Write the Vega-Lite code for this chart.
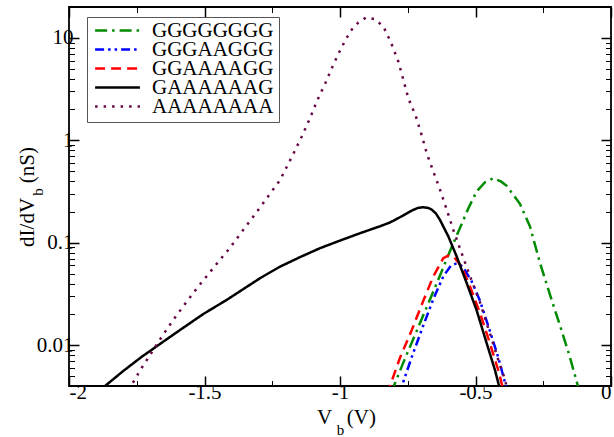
{
  "$schema": "https://vega.github.io/schema/vega-lite/v6.json",
  "width": 542,
  "height": 379,
  "autosize": "none",
  "padding": {"left": 69, "top": 7, "right": 3, "bottom": 51},
  "config": {
    "font": "'Liberation Serif', 'Times New Roman', Times, 'DejaVu Serif', serif",
    "view": {"stroke": "black", "strokeWidth": 1.8},
    "axis": {
      "grid": false,
      "domain": false,
      "labelFont": "'Liberation Serif', 'Times New Roman', Times, 'DejaVu Serif', serif",
      "titleFont": "'Liberation Serif', 'Times New Roman', Times, 'DejaVu Serif', serif",
      "labelFontSize": 21,
      "titleFontSize": 21,
      "titleFontWeight": "normal",
      "labelColor": "black",
      "titleColor": "black",
      "tickColor": "black"
    },
    "legend": {
      "labelFont": "'Liberation Serif', 'Times New Roman', Times, 'DejaVu Serif', serif"
    }
  },
  "data": {
    "values": [
      {"seq": "GGGGGGGG", "V": -0.81, "G": 0.0034},
      {"seq": "GGGGGGGG", "V": -0.803, "G": 0.0039},
      {"seq": "GGGGGGGG", "V": -0.766, "G": 0.0068},
      {"seq": "GGGGGGGG", "V": -0.717, "G": 0.0138},
      {"seq": "GGGGGGGG", "V": -0.668, "G": 0.028},
      {"seq": "GGGGGGGG", "V": -0.631, "G": 0.048},
      {"seq": "GGGGGGGG", "V": -0.594, "G": 0.083},
      {"seq": "GGGGGGGG", "V": -0.557, "G": 0.14},
      {"seq": "GGGGGGGG", "V": -0.527, "G": 0.215},
      {"seq": "GGGGGGGG", "V": -0.496, "G": 0.316},
      {"seq": "GGGGGGGG", "V": -0.465, "G": 0.39},
      {"seq": "GGGGGGGG", "V": -0.434, "G": 0.427},
      {"seq": "GGGGGGGG", "V": -0.405, "G": 0.395},
      {"seq": "GGGGGGGG", "V": -0.385, "G": 0.36},
      {"seq": "GGGGGGGG", "V": -0.336, "G": 0.24},
      {"seq": "GGGGGGGG", "V": -0.299, "G": 0.144},
      {"seq": "GGGGGGGG", "V": -0.262, "G": 0.0636},
      {"seq": "GGGGGGGG", "V": -0.225, "G": 0.031},
      {"seq": "GGGGGGGG", "V": -0.188, "G": 0.0155},
      {"seq": "GGGGGGGG", "V": -0.155, "G": 0.0082},
      {"seq": "GGGGGGGG", "V": -0.122, "G": 0.004},
      {"seq": "GGGGGGGG", "V": -0.115, "G": 0.0034},

      {"seq": "GGGAAGGG", "V": -0.783, "G": 0.0033},
      {"seq": "GGGAAGGG", "V": -0.773, "G": 0.0039},
      {"seq": "GGGAAGGG", "V": -0.735, "G": 0.0077},
      {"seq": "GGGAAGGG", "V": -0.693, "G": 0.0155},
      {"seq": "GGGAAGGG", "V": -0.656, "G": 0.028},
      {"seq": "GGGAAGGG", "V": -0.619, "G": 0.047},
      {"seq": "GGGAAGGG", "V": -0.59, "G": 0.06},
      {"seq": "GGGAAGGG", "V": -0.569, "G": 0.063},
      {"seq": "GGGAAGGG", "V": -0.548, "G": 0.059},
      {"seq": "GGGAAGGG", "V": -0.514, "G": 0.042},
      {"seq": "GGGAAGGG", "V": -0.483, "G": 0.027},
      {"seq": "GGGAAGGG", "V": -0.447, "G": 0.0138},
      {"seq": "GGGAAGGG", "V": -0.416, "G": 0.0076},
      {"seq": "GGGAAGGG", "V": -0.392, "G": 0.0044},
      {"seq": "GGGAAGGG", "V": -0.385, "G": 0.0037},

      {"seq": "GGAAAAGG", "V": -0.825, "G": 0.0033},
      {"seq": "GGAAAAGG", "V": -0.817, "G": 0.0039},
      {"seq": "GGAAAAGG", "V": -0.779, "G": 0.0075},
      {"seq": "GGAAAAGG", "V": -0.735, "G": 0.0141},
      {"seq": "GGAAAAGG", "V": -0.693, "G": 0.027},
      {"seq": "GGAAAAGG", "V": -0.656, "G": 0.0468},
      {"seq": "GGAAAAGG", "V": -0.619, "G": 0.0706},
      {"seq": "GGAAAAGG", "V": -0.6, "G": 0.075},
      {"seq": "GGAAAAGG", "V": -0.585, "G": 0.074},
      {"seq": "GGAAAAGG", "V": -0.576, "G": 0.0706},
      {"seq": "GGAAAAGG", "V": -0.551, "G": 0.0585},
      {"seq": "GGAAAAGG", "V": -0.52, "G": 0.0373},
      {"seq": "GGAAAAGG", "V": -0.483, "G": 0.0205},
      {"seq": "GGAAAAGG", "V": -0.447, "G": 0.0105},
      {"seq": "GGAAAAGG", "V": -0.416, "G": 0.0057},
      {"seq": "GGAAAAGG", "V": -0.4, "G": 0.0039},
      {"seq": "GGAAAAGG", "V": -0.395, "G": 0.0034},

      {"seq": "GAAAAAAG", "V": -1.875, "G": 0.0036},
      {"seq": "GAAAAAAG", "V": -1.867, "G": 0.004},
      {"seq": "GAAAAAAG", "V": -1.8, "G": 0.0056},
      {"seq": "GAAAAAAG", "V": -1.732, "G": 0.0077},
      {"seq": "GAAAAAAG", "V": -1.664, "G": 0.0103},
      {"seq": "GAAAAAAG", "V": -1.59, "G": 0.0141},
      {"seq": "GAAAAAAG", "V": -1.504, "G": 0.0202},
      {"seq": "GAAAAAAG", "V": -1.418, "G": 0.0277},
      {"seq": "GAAAAAAG", "V": -1.295, "G": 0.0451},
      {"seq": "GAAAAAAG", "V": -1.221, "G": 0.0585},
      {"seq": "GAAAAAAG", "V": -1.148, "G": 0.0723},
      {"seq": "GAAAAAAG", "V": -1.074, "G": 0.0885},
      {"seq": "GAAAAAAG", "V": -1.0, "G": 0.105},
      {"seq": "GAAAAAAG", "V": -0.926, "G": 0.124},
      {"seq": "GAAAAAAG", "V": -0.852, "G": 0.145},
      {"seq": "GAAAAAAG", "V": -0.815, "G": 0.158},
      {"seq": "GAAAAAAG", "V": -0.785, "G": 0.174},
      {"seq": "GAAAAAAG", "V": -0.754, "G": 0.193},
      {"seq": "GAAAAAAG", "V": -0.732, "G": 0.208},
      {"seq": "GAAAAAAG", "V": -0.712, "G": 0.219},
      {"seq": "GAAAAAAG", "V": -0.693, "G": 0.222},
      {"seq": "GAAAAAAG", "V": -0.675, "G": 0.219},
      {"seq": "GAAAAAAG", "V": -0.662, "G": 0.211},
      {"seq": "GAAAAAAG", "V": -0.646, "G": 0.193},
      {"seq": "GAAAAAAG", "V": -0.631, "G": 0.167},
      {"seq": "GAAAAAAG", "V": -0.6, "G": 0.115},
      {"seq": "GAAAAAAG", "V": -0.569, "G": 0.073},
      {"seq": "GAAAAAAG", "V": -0.532, "G": 0.04},
      {"seq": "GAAAAAAG", "V": -0.496, "G": 0.022},
      {"seq": "GAAAAAAG", "V": -0.459, "G": 0.0105},
      {"seq": "GAAAAAAG", "V": -0.428, "G": 0.0057},
      {"seq": "GAAAAAAG", "V": -0.412, "G": 0.0039},
      {"seq": "GAAAAAAG", "V": -0.408, "G": 0.0035},

      {"seq": "AAAAAAAA", "V": -1.775, "G": 0.0036},
      {"seq": "AAAAAAAA", "V": -1.769, "G": 0.0041},
      {"seq": "AAAAAAAA", "V": -1.732, "G": 0.006},
      {"seq": "AAAAAAAA", "V": -1.695, "G": 0.0085},
      {"seq": "AAAAAAAA", "V": -1.656, "G": 0.0123},
      {"seq": "AAAAAAAA", "V": -1.615, "G": 0.0177},
      {"seq": "AAAAAAAA", "V": -1.572, "G": 0.0253},
      {"seq": "AAAAAAAA", "V": -1.529, "G": 0.0357},
      {"seq": "AAAAAAAA", "V": -1.483, "G": 0.0505},
      {"seq": "AAAAAAAA", "V": -1.438, "G": 0.0707},
      {"seq": "AAAAAAAA", "V": -1.415, "G": 0.0834},
      {"seq": "AAAAAAAA", "V": -1.32, "G": 0.18},
      {"seq": "AAAAAAAA", "V": -1.221, "G": 0.41},
      {"seq": "AAAAAAAA", "V": -1.172, "G": 0.74},
      {"seq": "AAAAAAAA", "V": -1.141, "G": 1.09},
      {"seq": "AAAAAAAA", "V": -1.111, "G": 1.64},
      {"seq": "AAAAAAAA", "V": -1.084, "G": 2.45},
      {"seq": "AAAAAAAA", "V": -1.053, "G": 3.66},
      {"seq": "AAAAAAAA", "V": -1.025, "G": 5.45},
      {"seq": "AAAAAAAA", "V": -0.994, "G": 8.1},
      {"seq": "AAAAAAAA", "V": -0.961, "G": 11.7},
      {"seq": "AAAAAAAA", "V": -0.932, "G": 14.1},
      {"seq": "AAAAAAAA", "V": -0.904, "G": 15.8},
      {"seq": "AAAAAAAA", "V": -0.871, "G": 15.2},
      {"seq": "AAAAAAAA", "V": -0.84, "G": 12.9},
      {"seq": "AAAAAAAA", "V": -0.812, "G": 9.0},
      {"seq": "AAAAAAAA", "V": -0.785, "G": 5.9},
      {"seq": "AAAAAAAA", "V": -0.766, "G": 3.89},
      {"seq": "AAAAAAAA", "V": -0.748, "G": 2.58},
      {"seq": "AAAAAAAA", "V": -0.72, "G": 1.71},
      {"seq": "AAAAAAAA", "V": -0.699, "G": 1.13},
      {"seq": "AAAAAAAA", "V": -0.68, "G": 0.75},
      {"seq": "AAAAAAAA", "V": -0.656, "G": 0.5},
      {"seq": "AAAAAAAA", "V": -0.631, "G": 0.33},
      {"seq": "AAAAAAAA", "V": -0.606, "G": 0.21},
      {"seq": "AAAAAAAA", "V": -0.582, "G": 0.134},
      {"seq": "AAAAAAAA", "V": -0.551, "G": 0.079},
      {"seq": "AAAAAAAA", "V": -0.52, "G": 0.047},
      {"seq": "AAAAAAAA", "V": -0.483, "G": 0.026},
      {"seq": "AAAAAAAA", "V": -0.447, "G": 0.0131},
      {"seq": "AAAAAAAA", "V": -0.416, "G": 0.0072},
      {"seq": "AAAAAAAA", "V": -0.391, "G": 0.0046},
      {"seq": "AAAAAAAA", "V": -0.385, "G": 0.0039}
    ]
  },
  "layer": [
    {
      "mark": {"type": "line", "clip": true, "strokeWidth": 2.5, "strokeCap": "butt"},
      "encoding": {
        "x": {
          "field": "V", "type": "quantitative",
          "scale": {"domain": [-2, 0], "nice": false, "zero": false},
          "axis": {
            "orient": "bottom", "values": [-2, -1.5, -1, -0.5, 0],
            "tickSize": -10, "tickWidth": 1.5, "labelPadding": 5,
            "labelExpr": "'' + datum.value",
            "title": "V\u2002\u2009(V)", "titleX": 277, "titleY": 37,
            "titleAlign": "center", "titleBaseline": "alphabetic"
          }
        },
        "y": {
          "field": "G", "type": "quantitative",
          "scale": {"type": "log", "domain": [0.004, 20], "nice": false},
          "axis": {
            "orient": "left", "values": [0.01, 0.1, 1, 10],
            "tickSize": -10, "tickWidth": 1.5, "labelPadding": 6,
            "labelExpr": "'' + datum.value",
            "title": "dI/dV\u2002\u2009(nS)", "titleX": -36, "titleY": 189.5,
            "titleAngle": -90, "titleAlign": "center", "titleBaseline": "alphabetic"
          }
        },
        "color": {
          "field": "seq", "type": "nominal",
          "scale": {
            "domain": ["GGGGGGGG", "GGGAAGGG", "GGAAAAGG", "GAAAAAAG", "AAAAAAAA"],
            "range": ["#008b00", "#0000ff", "#ff0000", "#000000", "#670748"]
          },
          "legend": {
            "title": null, "orient": "none", "legendX": 18, "legendY": 10,
            "symbolType": "M-3.2,0H3.2", "symbolSize": 196, "symbolStrokeWidth": 2.5,
            "symbolOffset": 15, "labelOffset": 24, "clipHeight": 17,
            "labelFontSize": 21, "labelColor": "black",
            "labelLimit": 400, "rowPadding": -6, "padding": 5,
            "strokeColor": "#555555", "fillColor": "white"
          }
        },
        "strokeDash": {
          "field": "seq", "type": "nominal",
          "scale": {
            "domain": ["GGGGGGGG", "GGGAAGGG", "GGAAAAGG", "GAAAAAAG", "AAAAAAAA"],
            "range": [[12, 5, 2.5, 5], [9, 4, 2.5, 4, 2.5, 4], [10, 6], [1, 0], [2.5, 6]]
          },
          "legend": {
            "title": null, "orient": "none", "legendX": 18, "legendY": 10,
            "symbolType": "M-3.2,0H3.2", "symbolSize": 196, "symbolStrokeWidth": 2.5,
            "symbolOffset": 15, "labelOffset": 24, "clipHeight": 17,
            "labelFontSize": 21, "labelColor": "black",
            "labelLimit": 400, "rowPadding": -6, "padding": 5,
            "strokeColor": "#555555", "fillColor": "white"
          }
        }
      }
    },
    {
      "mark": {"type": "line", "strokeOpacity": 0},
      "encoding": {
        "x": {
          "field": "V", "type": "quantitative",
          "scale": {"domain": [-2, 0], "nice": false, "zero": false},
          "axis": {
            "orient": "bottom", "values": [-1.75, -1.25, -0.75, -0.25],
            "tickSize": -5.5, "tickWidth": 1, "labels": false,
            "title": "b", "titleFontSize": 15, "titleX": 271, "titleY": 48,
            "titleAlign": "center", "titleBaseline": "alphabetic"
          }
        },
        "y": {
          "field": "G", "type": "quantitative",
          "scale": {"type": "log", "domain": [0.004, 20], "nice": false},
          "axis": {
            "orient": "left",
            "values": [0.005, 0.006, 0.007, 0.008, 0.009, 0.02, 0.03, 0.04, 0.05, 0.06, 0.07, 0.08, 0.09, 0.2, 0.3, 0.4, 0.5, 0.6, 0.7, 0.8, 0.9, 2, 3, 4, 5, 6, 7, 8, 9],
            "tickSize": -5.5, "tickWidth": 1, "labels": false,
            "title": "b", "titleFontSize": 15, "titleX": -27, "titleY": 184.5,
            "titleAngle": -90, "titleAlign": "center", "titleBaseline": "alphabetic"
          }
        },
        "detail": {"field": "seq"}
      }
    },
    {
      "mark": {"type": "line", "strokeOpacity": 0},
      "encoding": {
        "x": {
          "field": "V", "type": "quantitative",
          "scale": {"domain": [-2, 0], "nice": false, "zero": false},
          "axis": {
            "orient": "top", "values": [-2, -1.5, -1, -0.5, 0],
            "tickSize": -10, "tickWidth": 1.5, "labels": false, "title": null
          }
        },
        "y": {
          "field": "G", "type": "quantitative",
          "scale": {"type": "log", "domain": [0.004, 20], "nice": false},
          "axis": {
            "orient": "right", "values": [0.01, 0.1, 1, 10],
            "tickSize": -10, "tickWidth": 1.5, "labels": false, "title": null
          }
        },
        "detail": {"field": "seq"}
      }
    },
    {
      "mark": {"type": "line", "strokeOpacity": 0},
      "encoding": {
        "x": {
          "field": "V", "type": "quantitative",
          "scale": {"domain": [-2, 0], "nice": false, "zero": false},
          "axis": {
            "orient": "top", "values": [-1.75, -1.25, -0.75, -0.25],
            "tickSize": -5.5, "tickWidth": 1, "labels": false, "title": null
          }
        },
        "y": {
          "field": "G", "type": "quantitative",
          "scale": {"type": "log", "domain": [0.004, 20], "nice": false},
          "axis": {
            "orient": "right",
            "values": [0.005, 0.006, 0.007, 0.008, 0.009, 0.02, 0.03, 0.04, 0.05, 0.06, 0.07, 0.08, 0.09, 0.2, 0.3, 0.4, 0.5, 0.6, 0.7, 0.8, 0.9, 2, 3, 4, 5, 6, 7, 8, 9],
            "tickSize": -5.5, "tickWidth": 1, "labels": false, "title": null
          }
        },
        "detail": {"field": "seq"}
      }
    }
  ],
  "resolve": {"axis": {"x": "independent", "y": "independent"}}
}
